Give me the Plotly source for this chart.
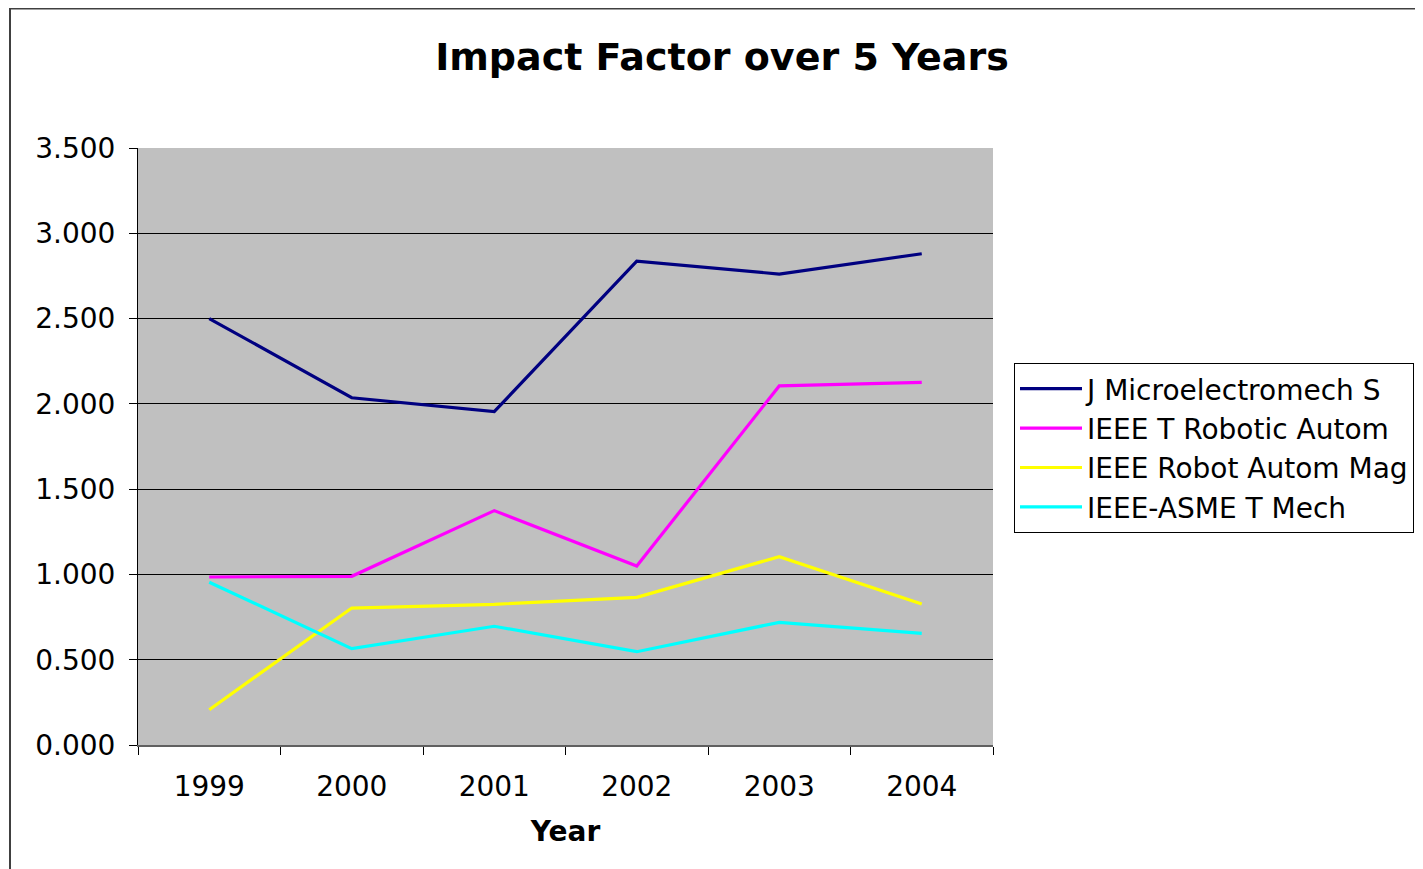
import plotly.graph_objects as go

years = ["1999", "2000", "2001", "2002", "2003", "2004"]
series_names = ["J Microelectromech S", "IEEE T Robotic Autom", "IEEE Robot Autom Mag", "IEEE-ASME T Mech"]
j_micro = [2.500, 2.036, 1.954, 2.836, 2.761, 2.880]
t_robotic = [0.985, 0.989, 1.374, 1.049, 2.105, 2.126]
robot_mag = [0.207, 0.803, 0.825, 0.866, 1.104, 0.827]
asme_mech = [0.954, 0.565, 0.696, 0.547, 0.719, 0.655]
colors = ["#000080", "#FF00FF", "#FFFF00", "#00FFFF"]
y_ticks = [0, 0.5, 1.0, 1.5, 2.0, 2.5, 3.0, 3.5]

OFF = 8  # page body margin
VW, VH = 1423, 869
W, H = VW - OFF, VH - OFF
L, R, T, B = 138, 993, 148, 745  # target pixel positions in the viewport
pw, ph = R - L, B - T

fig = go.Figure()
for name, vals, c in zip(series_names, [j_micro, t_robotic, robot_mag, asme_mech], colors):
    fig.add_trace(go.Scatter(x=years, y=vals, mode="lines", name=name,
                             line=dict(color=c, width=3.2)))

font = "DejaVu Sans"
fig.update_layout(
    width=W, height=H,
    margin=dict(l=L - OFF, r=VW - R, t=T - OFF, b=VH - B, autoexpand=False),
    paper_bgcolor="white",
    plot_bgcolor="#C0C0C0",
    font=dict(family=font, size=28, color="black"),
    title=dict(text="<b>Impact Factor over 5 Years</b>", x=(722 - OFF) / W, xanchor="center",
               y=1 - (57 - OFF) / H, yanchor="middle", xref="container", yref="container",
               font=dict(family=font, size=38, color="black")),
    showlegend=True,
    legend=dict(x=(1014 - L) / pw, y=(B - 363) / ph, xanchor="left", yanchor="top",
                bgcolor="white", bordercolor="black", borderwidth=1,
                font=dict(family=font, size=28, color="black"),
                tracegroupgap=0, itemwidth=62),
    xaxis=dict(type="category", tickson="boundaries", ticks="outside", ticklen=8,
               tickcolor="black", showgrid=False, showline=True, linecolor="#606060",
               linewidth=2, ticklabelstandoff=15,
               title=dict(text="<b>Year</b>", standoff=20,
                          font=dict(family=font, size=28, color="black")),
               range=[-0.5, 5.5], fixedrange=True),
    yaxis=dict(range=[0, 3.5], tickvals=y_ticks, tickformat=".3f", ticks="outside",
               ticklen=8, tickcolor="black", showgrid=True, gridcolor="black", gridwidth=1,
               showline=True, linecolor="black", linewidth=1, zeroline=False,
               ticklabelstandoff=8, fixedrange=True),
)

# outer chart frame
fig.add_shape(type="rect", xref="paper", yref="paper",
              x0=(10 - L) / pw, x1=(1440 - L) / pw,
              y0=(B - 890) / ph, y1=(B - 8.5) / ph,
              line=dict(color="#404040", width=2), fillcolor="rgba(0,0,0,0)", layer="below")

fig.write_html("out.html")
